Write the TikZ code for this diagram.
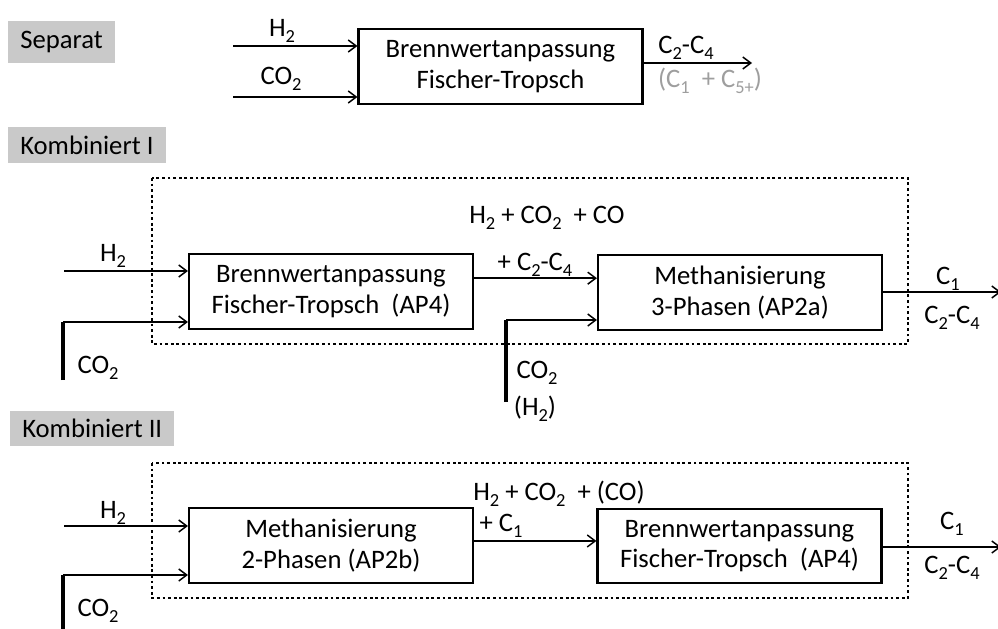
\documentclass[tikz,border=0pt]{standalone}
\usepackage{fontspec}
\setmainfont{Carlito}
\usetikzlibrary{arrows.meta}

% chemical index, set lower and smaller like in the slides
\newcommand{\idx}[1]{\raisebox{-0.22em}{\fontsize{13.8}{14}\selectfont #1}}

\begin{document}
\begin{tikzpicture}[x=0.75pt,y=-0.75pt,
  font=\fontsize{20}{23}\selectfont,
  tag/.style={fill=black!21, anchor=west, inner xsep=9pt, inner ysep=0pt},
  proc/.style={draw, line width=1.6pt, minimum width=213pt, minimum height=56pt,
    align=center, inner sep=0pt},
  flow/.style={line width=1.1pt, -{Straight Barb[length=6pt,width=9pt,line width=1.1pt]}},
  feed/.style={line width=2.3pt},
  frame/.style={line width=2pt, dash pattern=on 2.1pt off 2.1pt},
  lbl/.style={inner sep=0pt}]

  \useasboundingbox (0,0) rectangle (998,628);

  % --- separat ---
  \node[tag, minimum height=31.5pt] (sep) at (8,42) {Separat\hspace{8pt}};
  \node[proc] (fts) at (500.5,66.5) {Brennwertanpassung\\Fischer-Tropsch};
  \coordinate (h2s) at (233,46);
  \coordinate (co2s) at (233,97);
  \coordinate (outs) at (752,63);
  \draw[flow] (h2s) -- (h2s -| fts.west);
  \draw[flow] (co2s) -- (co2s -| fts.west);
  \draw[flow] (outs -| fts.east) -- (outs);
  \node[lbl] (h2sl) at (282,31) {H\idx{2}};
  \node[lbl] (co2sl) at (281,79) {CO\idx{2}};
  \node[lbl] (c24s) at (686,48) {C\idx{2}-C\idx{4}};
  \node[lbl, text=black!38] (rests) at (710,81) {(C\idx{1}\ \ + C\idx{5+})};

  % --- kombiniert I ---
  \node[tag, minimum height=26.5pt] (k1) at (8,145) {Kombiniert I\hspace{8pt}};
  \draw[frame] (152,178) rectangle (908,344);
  \node[proc] (ap4) at (331,291.5) {Brennwertanpassung\\Fischer-Tropsch\ \ (AP4)};
  \node[proc] (ap2a) at (740,292.5) {Methanisierung\\3-Phasen (AP2a)};
  \coordinate (h2a) at (64,271);
  \coordinate (co2a) at (63,380);
  \coordinate (co2ak) at (63,322);
  \coordinate (co2b) at (506,402);
  \coordinate (co2bk) at (506,320);
  \coordinate (outa) at (1001,292);
  \draw[flow] (h2a) -- (h2a -| ap4.west);
  \draw[feed] (co2a) -- (co2ak);
  \draw[flow] (co2ak) -- (co2ak -| ap4.west);
  \draw[flow] ([yshift=10pt]ap4.east) -- ([yshift=10pt]ap4.east -| ap2a.west);
  \draw[feed] (co2b) -- (co2bk);
  \draw[flow] (co2bk) -- (co2bk -| ap2a.west);
  \draw[flow] (outa -| ap2a.east) -- (outa);
  \node[lbl] (h2al) at (113,256) {H\idx{2}};
  \node[lbl] (co2al) at (98,368) {CO\idx{2}};
  \node[lbl] (mixa) at (547,218) {H\idx{2} + CO\idx{2}\ \ + CO};
  \node[lbl] (mixa2) at (535,265) {+ C\idx{2}-C\idx{4}};
  \node[lbl] (co2bl) at (537,373) {CO\idx{2}};
  \node[lbl] (h2bl) at (535,409) {(H\idx{2})};
  \node[lbl] (c1a) at (948,279) {C\idx{1}};
  \node[lbl] (c24a) at (952,318) {C\idx{2}-C\idx{4}};

  % --- kombiniert II ---
  \node[tag, minimum height=26.5pt] (k2) at (10,428.5) {Kombiniert II\hspace{8pt}};
  \draw[frame] (152,463) rectangle (908,598);
  \node[proc] (ap2b) at (331,545.5) {Methanisierung\\2-Phasen (AP2b)};
  \node[proc] (ft4) at (739.5,546) {Brennwertanpassung\\Fischer-Tropsch\ \ (AP4)};
  \coordinate (h2c) at (64,526);
  \coordinate (co2c) at (63,632);
  \coordinate (co2ck) at (63,575);
  \coordinate (outc) at (1001,547);
  \draw[flow] (h2c) -- (h2c -| ap2b.west);
  \draw[feed] (co2c) -- (co2ck);
  \draw[flow] (co2ck) -- (co2ck -| ap2b.west);
  \draw[flow] ([yshift=3.4pt]ap2b.east) -- ([yshift=3.4pt]ap2b.east -| ft4.west);
  \draw[flow] (outc -| ft4.east) -- (outc);
  \node[lbl] (h2cl) at (113,513) {H\idx{2}};
  \node[lbl] (co2cl) at (98,611) {CO\idx{2}};
  \node[lbl] (mixc) at (559,494) {H\idx{2} + CO\idx{2}\ \ + (CO)};
  \node[lbl] (mixc2) at (501,526) {+ C\idx{1}};
  \node[lbl] (c1c) at (952,524) {C\idx{1}};
  \node[lbl] (c24c) at (952,568) {C\idx{2}-C\idx{4}};
\end{tikzpicture}
\end{document}
